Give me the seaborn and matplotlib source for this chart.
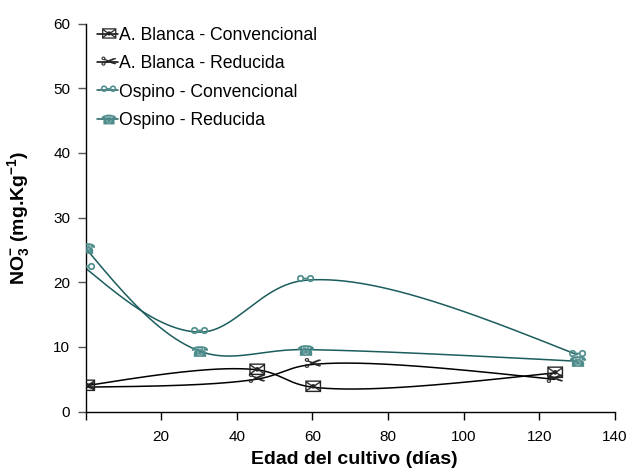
import numpy as np
import pandas as pd
import matplotlib
matplotlib.use("Agg")
import matplotlib.pyplot as plt
import seaborn as sns
from matplotlib.lines import Line2D
from matplotlib.textpath import TextPath
from matplotlib.font_manager import FontProperties
from matplotlib.path import Path

# ---------------- data ----------------
dias_blanca = [0, 45, 60, 124]
dias_ospino = [0, 30, 58, 130]
blanca_conv = [4.0, 6.5, 3.8, 6.0]
blanca_red = [3.8, 5.0, 7.3, 5.0]
ospino_conv = [22.2, 12.3, 20.3, 8.8]
ospino_red = [25.3, 9.4, 9.6, 7.8]
series_names = ["A. Blanca - Convencional", "A. Blanca - Reducida",
                "Ospino - Convencional", "Ospino - Reducida"]
x_ticks = [0, 20, 40, 60, 80, 100, 120, 140]
x_tick_labels = ["", "20", "40", "60", "80", "100", "120", "140"]
y_ticks = [0, 10, 20, 30, 40, 50, 60]

sns.set_style("ticks")
plt.rcParams["font.family"] = ["Liberation Sans", "DejaVu Sans"]
plt.rcParams["mathtext.fontset"] = "custom"
plt.rcParams["mathtext.rm"] = "Liberation Sans:bold"
plt.rcParams["mathtext.bf"] = "Liberation Sans:bold"
plt.rcParams["mathtext.default"] = "bf"
plt.rcParams["text.color"] = "black"
plt.rcParams["axes.labelcolor"] = "black"

XMAX, YMAX = 140, 60


def smooth_curve(x, y, sx, sy, n=120, alpha=0.5):
    """Centripetal Catmull-Rom (natural ends) through the points, in screen space."""
    P = np.column_stack([np.asarray(x, float) * sx, np.asarray(y, float) * sy])
    k = len(P)
    t = np.zeros(k)
    for i in range(1, k):
        t[i] = t[i - 1] + np.linalg.norm(P[i] - P[i - 1]) ** alpha
    V = np.zeros_like(P)
    for i in range(1, k - 1):
        V[i] = ((P[i] - P[i - 1]) / (t[i] - t[i - 1])
                - (P[i + 1] - P[i - 1]) / (t[i + 1] - t[i - 1])
                + (P[i + 1] - P[i]) / (t[i + 1] - t[i]))
    d0 = t[1] - t[0]
    V[0] = (3 * (P[1] - P[0]) / d0 - V[1]) / 2
    dn = t[-1] - t[-2]
    V[-1] = (3 * (P[-1] - P[-2]) / dn - V[-2]) / 2
    out = []
    s = np.linspace(0, 1, n)[:, None]
    h00 = 2 * s**3 - 3 * s**2 + 1
    h10 = s**3 - 2 * s**2 + s
    h01 = -2 * s**3 + 3 * s**2
    h11 = s**3 - s**2
    for i in range(k - 1):
        dt = t[i + 1] - t[i]
        c = h00 * P[i] + h10 * dt * V[i] + h01 * P[i + 1] + h11 * dt * V[i + 1]
        out.append(c if i == 0 else c[1:])
    c = np.vstack(out)
    return c[:, 0] / sx, c[:, 1] / sy


def glyph_marker(ch):
    tp = TextPath((0, 0), ch, size=10, prop=FontProperties(family="DejaVu Sans"))
    v = tp.vertices.copy()
    c = (v.min(axis=0) + v.max(axis=0)) / 2
    return Path(v - c, tp.codes)


black = "#000000"
teal_line = "#1b5c5c"
teal_mark = "#4e8c8c"

series = [
    (dias_blanca, blanca_conv, black, "#222222", glyph_marker("\u2709")),
    (dias_blanca, blanca_red, black, "#222222", glyph_marker("\u2702")),
    (dias_ospino, ospino_conv, teal_line, teal_mark, glyph_marker("\u26af")),
    (dias_ospino, ospino_red, teal_line, teal_mark, glyph_marker("\u260e")),
]

fig = plt.figure(figsize=(6.29, 4.68), dpi=100)
ax_w_px = 615 - 85.5
ax_h_px = 411.7 - 23.5
ax = fig.add_axes([85.5 / 629, 1 - 411.7 / 468, ax_w_px / 629, ax_h_px / 468])
sx = ax_w_px / XMAX
sy = ax_h_px / YMAX

handles = []
for name, (xs, ys, lc, mc, mk) in zip(series_names, series):
    cx, cy = smooth_curve(xs, ys, sx, sy)
    sns.lineplot(x=cx, y=cy, ax=ax, color=lc, lw=1.1, sort=False, estimator=None)
    sns.scatterplot(x=xs, y=ys, ax=ax, marker=mk, s=150, color=mc,
                    edgecolor=mc, linewidth=0.2, zorder=5)
    handles.append(Line2D([], [], color=lc, lw=1.1, marker=mk, markersize=11,
                          markerfacecolor=mc, markeredgecolor=mc, markeredgewidth=0.2))

ax.set_xlim(0, XMAX)
ax.set_ylim(0, YMAX)
ax.set_xticks(x_ticks)
ax.set_xticklabels(x_tick_labels)
ax.set_yticks(y_ticks)
sns.despine(ax=ax)
for s in ["left", "bottom"]:
    ax.spines[s].set_linewidth(1.0)
    ax.spines[s].set_color("black")
ax.tick_params(axis="both", direction="out", length=6, width=1, colors="black",
               labelsize=11, pad=5, labelcolor="black")
ax.tick_params(axis="y", colors="#555555", labelcolor="black")
ax.tick_params(axis="x", pad=7)

ax.set_xlabel("Edad del cultivo (días)", fontsize=14, fontweight="bold", color="black")
ax.set_ylabel(r"NO$^{-}_{3}$ (mg.Kg$^{-1}$)", fontsize=14, fontweight="bold", color="black")
ax.xaxis.set_label_coords((354.5 - 85.5) / 529.5, (411.7 - 451) / 388.2)
ax.yaxis.set_label_coords((32 - 85.5) / 529.5, 0.5)

leg = ax.legend(handles, series_names, loc="upper left",
                bbox_to_anchor=(97 / 629, 1 - 27 / 468), bbox_transform=fig.transFigure,
                frameon=False, fontsize=12.7, handlelength=1.2, handletextpad=0.05,
                labelspacing=0.64, borderpad=0, borderaxespad=0)
for txt in leg.get_texts():
    txt.set_color("black")

fig.savefig("out.png", dpi=100)
